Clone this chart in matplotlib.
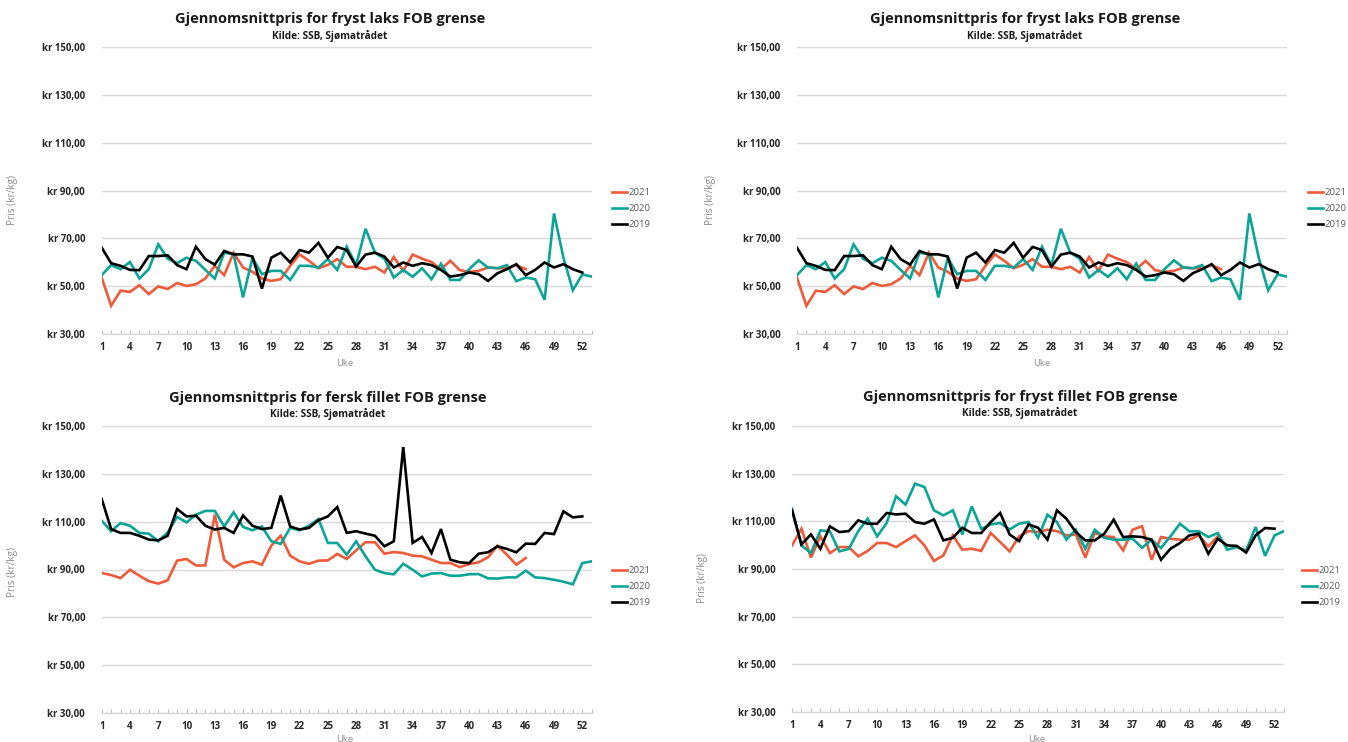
import numpy as np
import matplotlib
matplotlib.use("Agg")
import matplotlib.pyplot as plt
from matplotlib.ticker import FuncFormatter

plt.rcParams['font.family'] = ['Open Sans', 'DejaVu Sans']

weeks = list(range(1, 54))
tick_labels = [str(w) if (w - 1) % 3 == 0 else '' for w in weeks]
series_names = ['2021', '2020', '2019']
colors = ['#EE5A3A', '#0AA596', '#000000']

# Fryst laks (top panels)
laks_2021 = [53.6, 41.8, 48.1, 47.6, 50.4, 46.7, 49.9, 48.8, 51.3, 50.1, 50.8, 53.2, 58.5, 54.6,
             64.0, 57.8, 56.0, 53.2, 52.2, 52.9, 58.5, 63.3, 60.6, 57.5, 58.9, 61.3, 58.1, 58.1,
             57.1, 58.1, 55.7, 62.2, 56.4, 63.2, 61.5, 60.1, 57.1, 60.6, 56.7, 56.0, 56.4, 57.8,
             57.5, 57.5, 58.8, 57.1]
laks_2020 = [54.6, 58.8, 57.1, 60.1, 53.2, 57.1, 67.5, 61.5, 59.6, 61.9, 60.6, 56.8, 53.2, 64.0,
             63.3, 45.3, 61.9, 55.0, 56.4, 56.4, 52.6, 58.5, 58.5, 57.8, 61.3, 56.8, 66.5, 58.8,
             74.0, 64.0, 61.5, 53.6, 56.8, 53.9, 57.5, 52.9, 59.4, 52.6, 52.6, 57.1, 60.8, 57.8,
             57.5, 58.8, 52.1, 53.6, 52.9, 44.3, 80.4, 61.9, 48.3, 54.9, 54.0]
laks_2019 = [66.1, 59.6, 58.5, 56.8, 56.7, 62.6, 62.6, 62.9, 58.8, 57.1, 66.5, 61.3, 59.0, 64.7,
             63.3, 63.3, 62.4, 49.0, 61.9, 64.0, 59.9, 65.1, 64.0, 68.1, 61.9, 66.4, 65.1, 58.2,
             63.2, 64.0, 62.4, 57.8, 59.9, 58.5, 59.6, 58.8, 56.8, 54.0, 54.6, 55.7, 55.0, 52.2,
             55.4, 57.1, 59.2, 54.6, 56.8, 59.9, 57.8, 59.2, 57.1, 55.7]

# Fersk fillet (bottom left)
fersk_2021 = [88.5, 87.7, 86.4, 89.9, 87.4, 85.1, 84.1, 85.5, 93.7, 94.4, 91.7, 91.7, 112.9, 94.1,
              90.9, 92.7, 93.4, 92.0, 100.0, 104.1, 95.8, 93.4, 92.4, 93.7, 93.8, 96.5, 94.4, 98.0,
              101.4, 101.4, 96.6, 97.3, 96.9, 95.8, 95.5, 94.1, 92.7, 92.7, 91.0, 92.3, 93.0, 95.1,
              100.0, 96.2, 92.0, 94.8]
fersk_2020 = [110.4, 106.0, 109.4, 108.3, 105.3, 105.0, 101.8, 105.5, 112.0, 109.7, 112.9, 114.5,
              114.5, 108.0, 113.9, 107.8, 106.4, 108.0, 101.8, 100.7, 107.4, 106.4, 108.3, 111.1,
              101.1, 101.1, 96.2, 101.8, 95.5, 89.9, 88.5, 88.0, 92.4, 89.9, 87.1, 88.3, 88.5,
              87.4, 87.4, 88.0, 88.1, 86.3, 86.2, 86.7, 86.7, 89.5, 86.7, 86.4, 85.7, 84.9, 83.8,
              92.7, 93.4]
fersk_2019 = [119.5, 106.9, 105.3, 105.3, 104.1, 102.5, 102.2, 104.1, 115.3, 112.2, 112.5, 108.3,
              106.7, 107.4, 105.3, 112.6, 108.3, 106.9, 107.4, 120.9, 108.0, 106.7, 107.4, 110.6,
              112.2, 116.1, 105.3, 106.0, 105.0, 104.1, 99.7, 101.8, 141.2, 101.1, 103.6, 96.9,
              106.9, 94.1, 93.0, 92.7, 96.6, 97.2, 99.7, 98.6, 97.2, 100.8, 100.7, 105.3, 104.8,
              114.3, 111.8, 112.2]

# Fryst fillet (bottom right)
fillet_2021 = [99.9, 106.9, 94.8, 103.7, 96.7, 99.2, 99.2, 95.3, 97.6, 100.9, 100.9, 99.2, 101.7,
               104.1, 99.9, 93.4, 95.7, 104.1, 98.1, 98.5, 97.6, 105.1, 101.3, 97.4, 103.7, 105.9,
               105.5, 106.5, 105.9, 104.1, 104.5, 94.8, 105.1, 103.7, 103.4, 97.8, 106.5, 107.9,
               93.9, 103.4, 102.7, 102.3, 102.3, 104.1, 99.5, 103.7]
fillet_2020 = [115.3, 99.9, 96.7, 106.2, 105.8, 97.4, 98.4, 105.9, 111.1, 103.7, 109.3, 120.5,
               117.0, 125.8, 124.4, 114.6, 112.5, 114.6, 104.5, 116.3, 106.9, 108.7, 109.3, 106.6,
               109.0, 109.7, 103.1, 112.8, 109.7, 102.3, 106.5, 98.5, 106.5, 103.1, 102.3, 102.3,
               102.7, 98.9, 102.3, 98.8, 103.7, 109.0, 105.8, 105.8, 103.4, 105.1, 98.1, 99.2,
               97.8, 107.6, 95.5, 104.1, 105.9]
fillet_2019 = [114.6, 100.3, 104.5, 98.5, 107.9, 105.5, 105.9, 110.4, 109.0, 109.0, 113.5, 112.9,
               113.2, 109.7, 109.0, 110.8, 102.0, 103.1, 107.3, 105.1, 105.1, 109.7, 113.5, 104.5,
               101.7, 108.7, 107.3, 102.3, 114.6, 111.1, 105.5, 102.0, 102.0, 104.8, 110.7, 103.4,
               103.7, 103.4, 102.3, 93.9, 98.5, 100.9, 104.1, 104.8, 96.4, 102.7, 99.9, 99.7, 96.9,
               104.1, 107.2, 106.9]

yticks = [30, 50, 70, 90, 110, 130, 150]

W, H = 1348, 742
fig = plt.figure(figsize=(W / 100, H / 100), dpi=100)


def fx(px):
    return px / W


def fy(py):
    return 1 - py / H


panels = [
    dict(rect=(101.7, 591.7, 47, 334), data=(laks_2021, laks_2020, laks_2019),
         title='Gjennomsnittpris for fryst laks FOB grense', tx=330, ty=19, sy=36,
         ylab=(13, 200), xlab=(345, 363), leg=(612, 188)),
    dict(rect=(797, 1287, 47, 334), data=(laks_2021, laks_2020, laks_2019),
         title='Gjennomsnittpris for fryst laks FOB grense', tx=1025, ty=19, sy=36,
         ylab=(710, 200), xlab=(1042, 363), leg=(1308, 188)),
    dict(rect=(101.7, 591.7, 426, 713), data=(fersk_2021, fersk_2020, fersk_2019),
         title='Gjennomsnittpris for fersk fillet FOB grense', tx=328, ty=398, sy=414,
         ylab=(13, 572), xlab=(345, 740), leg=(612, 566)),
    dict(rect=(792, 1284, 426, 712), data=(fillet_2021, fillet_2020, fillet_2019),
         title='Gjennomsnittpris for fryst fillet FOB grense', tx=1020, ty=397, sy=413,
         ylab=(703, 578), xlab=(1037, 740), leg=(1302, 566)),
]

fmt = FuncFormatter(lambda v, p: 'kr ' + f'{v:.2f}'.replace('.', ','))

for pn in panels:
    x0, x1, yt, yb = pn['rect']
    ax = fig.add_axes([fx(x0), fy(yb), fx(x1) - fx(x0), fy(yt) - fy(yb)])
    lines = []
    for vals, name, c in zip(pn['data'], series_names, colors):
        ln, = ax.plot(weeks[:len(vals)], vals, color=c, lw=1.9, label=name,
                      solid_joinstyle='miter', zorder=3)
        lines.append(ln)
    ax.set_xlim(1, 53)
    ax.set_ylim(30, 150)
    ax.set_yticks(yticks)
    ax.yaxis.set_major_formatter(fmt)
    ax.set_xticks(weeks)
    ax.set_xticklabels(tick_labels)
    ax.grid(axis='y', color='#D9D9D9', lw=1.0, zorder=0)
    for s in ['top', 'right', 'left']:
        ax.spines[s].set_visible(False)
    ax.spines['bottom'].set_color('#D9D9D9')
    ax.spines['bottom'].set_linewidth(1.0)
    ax.tick_params(axis='y', length=0, pad=12, labelsize=6.9, labelcolor='#262626')
    ax.tick_params(axis='x', direction='in', length=3, width=0.8, color='#BFBFBF',
                   pad=6, labelsize=7.0, labelcolor='#262626')
    for lab in ax.get_xticklabels() + ax.get_yticklabels():
        lab.set_fontweight('bold')
    fig.text(fx(pn['tx']), fy(pn['ty']), pn['title'], ha='center', va='center',
             fontsize=10.5, fontweight='bold', color='#1a1a1a')
    fig.text(fx(pn['tx']), fy(pn['sy']), 'Kilde: SSB, Sjømatrådet', ha='center', va='center',
             fontsize=7.2, fontweight='bold', color='#1a1a1a')
    fig.text(fx(pn['ylab'][0]), fy(pn['ylab'][1]), 'Pris (kr/kg)', rotation=90,
             ha='center', va='center', fontsize=7.2, color='#8c8c8c')
    fig.text(fx(pn['xlab'][0]), fy(pn['xlab'][1]), 'Uke', ha='center', va='center',
             fontsize=6.8, color='#8c8c8c')
    ax.legend(handles=lines, loc='upper left',
              bbox_to_anchor=(fx(pn['leg'][0]), fy(pn['leg'][1])),
              bbox_transform=fig.transFigure, frameon=False, fontsize=6.8,
              labelcolor='#595959', handlelength=1.6, handletextpad=0.15,
              labelspacing=0.75, borderpad=0, borderaxespad=0)

fig.savefig('out.png', dpi=100)
